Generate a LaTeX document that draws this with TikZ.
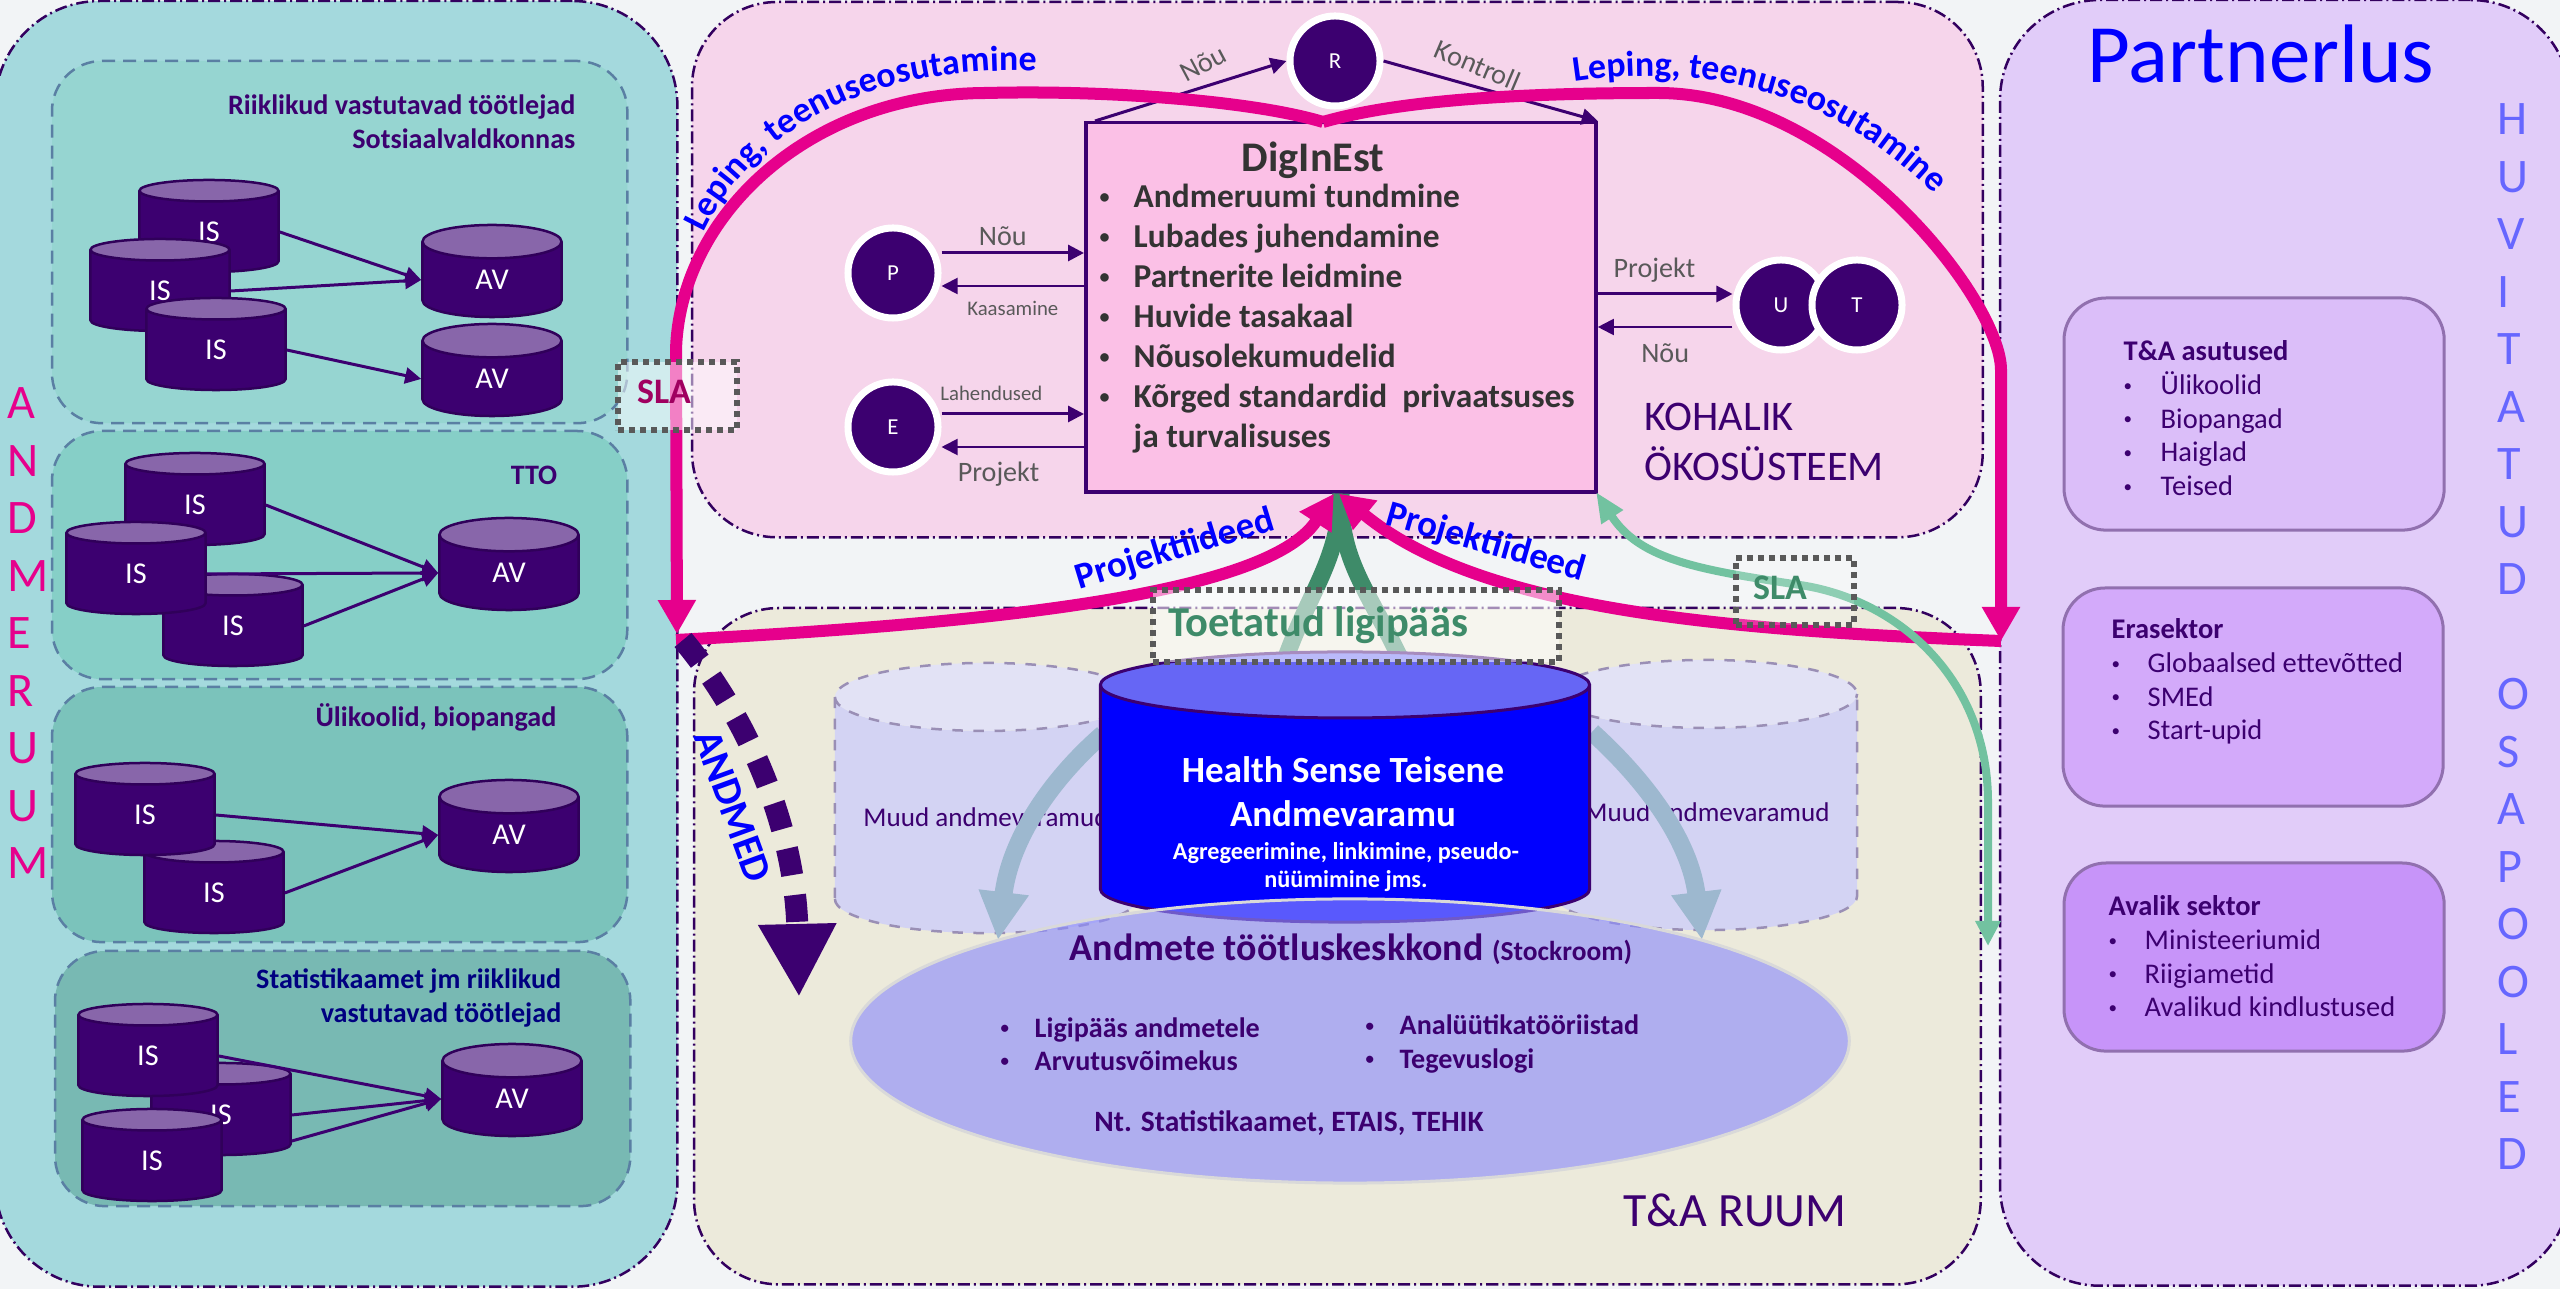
\documentclass[tikz,border=0pt]{standalone}
\usepackage{fontspec}
\usepackage{graphicx}
\setmainfont{Carlito}
\usetikzlibrary{shapes.geometric, arrows.meta, decorations.text}
\definecolor{purp}{HTML}{3C0070}
\definecolor{purplt}{HTML}{8866AA}
\definecolor{mag}{HTML}{E6008C}
\definecolor{bblue}{HTML}{0000FF}
\definecolor{grn}{HTML}{3E8B69}
\definecolor{pagebg}{HTML}{F2F4F6}
\definecolor{dashblue}{HTML}{5A7FA3}
\definecolor{grayblue}{HTML}{9DB8CF}
\definecolor{sidebody}{HTML}{D3D3F3}
\definecolor{sideend}{HTML}{E2E2F5}
\definecolor{sideline}{HTML}{9A8FB5}
\definecolor{slared}{HTML}{A00060}
\newcommand{\fsize}[2]{\fontsize{#1}{#2}\selectfont}
\newcommand{\bul}[1]{\makebox[#1][l]{\raisebox{0.25ex}{\scalebox{0.6}{•}}}}
\tikzstyle{panel} = [rectangle, anchor=north west, inner sep=0, outer sep=0, draw=purp!85!black, line width=0.025cm, dash pattern=on 0.12cm off 0.04cm on 0.02cm off 0.04cm]
\tikzstyle{lpanel} = [rectangle, anchor=north west, inner sep=0, outer sep=0, draw=dashblue, line width=0.025cm, dash pattern=on 0.13cm off 0.08cm, rounded corners=0.5cm, minimum width=5.75cm]
\tikzstyle{rpanel} = [rectangle, anchor=north west, inner sep=0, outer sep=0, draw=purp!50!purplt!70!white, line width=0.03cm, rounded corners=0.42cm, minimum width=3.8cm]
\tikzstyle{iscell} = [cylinder, shape border rotate=90, aspect=1, draw=purp!80!black, line width=0.025cm, cylinder uses custom fill, cylinder body fill=purp, cylinder end fill=purplt, minimum width=1.39cm, minimum height=0.92cm, inner sep=0, text=white, anchor=shape center, font=\fsize{8.6}{10}]
\tikzstyle{sidecell} = [cylinder, shape border rotate=90, aspect=1, draw=sideline, dashed, line width=0.025cm, cylinder uses custom fill, cylinder body fill=sidebody, cylinder end fill=sideend, minimum width=3.02cm, minimum height=2.7cm, inner sep=0.34cm, anchor=shape center]
\tikzstyle{ccell} = [circle, fill=purp, draw=white, line width=0.07cm, minimum size=0.9cm, inner sep=0, text=white, font=\fsize{6.5}{8}]
\tikzstyle{sbox} = [rectangle, anchor=north west, inner sep=0, draw=black!65, line width=0.06cm, dash pattern=on 0.06cm off 0.05cm, fill=white]
\tikzstyle{line} = [draw=purp, line width=0.03cm, -{Triangle[length=0.16cm,width=0.16cm]}]
\tikzstyle{pinkline} = [draw=mag, line width=0.12cm, -{Triangle[length=0.34cm,width=0.36cm]}]
\tikzstyle{gline} = [draw=grn, line width=0.17cm]
\tikzstyle{grayline} = [draw=grayblue, line width=0.18cm, -{Triangle[length=0.48cm,width=0.47cm]}]
\tikzstyle{ptext} = [inner sep=0, text=purp]
\tikzstyle{gtext} = [inner sep=0, text=black!65, font=\fsize{8}{9}]
\tikzstyle{stext} = [inner sep=0, text=black!65, font=\fsize{5.9}{7}]
\tikzstyle{btext} = [inner sep=0, text=bblue, font=\fsize{10.5}{12}\bfseries]

\begin{document}
\begin{tikzpicture}[x=0.01cm, y=-0.01cm]
    \useasboundingbox (0,0) rectangle (2560,1289);
    \clip (0,0) rectangle (2560,1289);
    \fill[pagebg] (0,0) rectangle (2560,1289);

    % rooms
    \node[panel, fill={rgb,255:red,164;green,217;blue,221}, minimum width=6.82cm, minimum height=12.85cm, rounded corners=1.05cm] (andmeruum) at (-5,1) {};
    \node[panel, fill={rgb,255:red,246;green,213;blue,235}, minimum width=12.9cm, minimum height=5.35cm, rounded corners=0.85cm] (kohalik) at (692,2) {};
    \node[panel, fill={rgb,255:red,236;green,234;blue,219}, minimum width=12.86cm, minimum height=6.76cm, rounded corners=0.85cm] (tarum) at (694,608) {};
    \node[panel, fill={rgb,255:red,225;green,204;blue,249}, minimum width=5.7cm, minimum height=12.85cm, rounded corners=1cm] (partner) at (2000,0) {};

    % andmeruum
    \node[lpanel, fill={rgb,255:red,150;green,213;blue,209}, minimum height=3.62cm] (sots) at (52,61) {};
    \node[lpanel, fill={rgb,255:red,134;green,207;blue,199}, minimum height=2.48cm] (tto) at (52,431) {};
    \node[lpanel, fill={rgb,255:red,123;green,195;blue,187}, minimum height=2.55cm] (uli) at (52,687) {};
    \node[lpanel, fill={rgb,255:red,120;green,185;blue,179}, minimum height=2.55cm] (stat) at (55,951) {};

    \node[ptext, anchor=east, align=right, font=\fsize{8}{9.7}\bfseries] (sotstext) at (576,122) {Riiklikud vastutavad töötlejad\\Sotsiaalvaldkonnas};
    \node[ptext, font=\fsize{8}{9}\bfseries] (ttotext) at (534,475) {TTO};
    \node[ptext, anchor=east, font=\fsize{8}{9}\bfseries] (ulitext) at (557,717) {Ülikoolid, biopangad};
    \node[ptext, anchor=east, align=right, text=blue!50!black, font=\fsize{8}{9.4}\bfseries] (stattext) at (562,998) {Statistikaamet jm riiklikud\\vastutavad töötlejad};

    \node[iscell] (is1) at (209,226) {IS};
    \node[iscell] (is2) at (160,285) {IS};
    \node[iscell] (is3) at (216,344) {IS};
    \node[iscell] (av1) at (492,271) {AV};
    \node[iscell] (av2) at (492,370) {AV};
    \path[line] (is1.east) -- (av1.west);
    \path[line] (is2.east) -- (av1.west);
    \path[line] (is3.east) -- (av2.west);

    \node[iscell] (is4) at (195,499) {IS};
    \node[iscell] (is6) at (233,620) {IS};
    \node[iscell] (is5) at (136,568) {IS};
    \node[iscell] (av3) at (509,564) {AV};
    \path[line] (is4.east) -- (av3.west);
    \path[line] (is5.east) -- (av3.west);
    \path[line] (is6.east) -- (av3.west);

    \node[iscell] (is8) at (214,887) {IS};
    \node[iscell] (is7) at (145,809) {IS};
    \node[iscell] (av4) at (509,826) {AV};
    \path[line] (is7.east) -- (av4.west);
    \path[line] (is8.east) -- (av4.west);

    \node[iscell] (is10) at (221,1109) {IS};
    \node[iscell] (is9) at (148,1050) {IS};
    \node[iscell] (is11) at (152,1155) {IS};
    \node[iscell] (av5) at (512,1090) {AV};
    \path[line] (is9.east) -- (av5.west);
    \path[line] (is10.east) -- (av5.west);
    \path[line] ([yshift=-0.26cm]is10.east) -- (av5.west);

    \node[inner sep=0, anchor=north west, align=left, text=mag, font=\fsize{13.7}{16.35}] (ruum) at (7,387) {A\\N\\D\\M\\E\\R\\U\\U\\M};

    % digitaalne keskus
    \node[rectangle, anchor=north west, inner sep=0, draw=purp, line width=0.035cm, fill={rgb,255:red,251;green,192;blue,230}, minimum width=5.1cm, minimum height=3.69cm] (dig) at (1084,121) {};
    \node[inner sep=0, text=black!80, font=\fsize{12}{14}\bfseries] (digtitle) at (1313,160) {DigInEst};
    \node[inner sep=0, anchor=north west, align=left, text=black!80, font=\fsize{9.5}{11.4}\bfseries] (diglist) at (1099,183) {\bul{0.34cm}Andmeruumi tundmine\\\bul{0.34cm}Lubades juhendamine\\\bul{0.34cm}Partnerite leidmine\\\bul{0.34cm}Huvide tasakaal\\\bul{0.34cm}Nõusolekumudelid\\\bul{0.34cm}Kõrged standardid~ privaatsuses\\\hspace*{0.34cm}ja turvalisuses};

    \node[ccell] (r) at (1335,61) {R};
    \node[ccell] (p) at (893,273) {P};
    \node[ccell] (e) at (893,427) {E};
    \node[ccell] (u) at (1781,305) {U};
    \node[ccell] (t) at (1857,305) {T};

    \path[line] ([xshift=0.11cm]dig.north west) -- node[gtext, rotate=28, above=0.12cm, pos=0.62] (noua) {Nõu} (r.west);
    \path[line] (r.east) -- node[gtext, rotate=-23, above=0.1cm, pos=0.4] (kontroll) {Kontroll} (dig.north east);
    \path[line] ([yshift=0.2cm]p.east) -- node[gtext, above=0.06cm, pos=0.43] (noub) {Nõu} ([yshift=0.2cm]p.east -| dig.west);
    \path[line, line width=0.02cm] ([yshift=-0.13cm]p.east -| dig.west) -- node[stext, below=0.14cm] (kaas) {Kaasamine} ([yshift=-0.13cm]p.east);
    \path[line] ([yshift=0.13cm]e.east) -- node[stext, above=0.12cm, pos=0.35] (lah) {Lahendused} ([yshift=0.13cm]e.east -| dig.west);
    \path[line, line width=0.02cm] ([yshift=-0.2cm]e.east -| dig.west) -- node[gtext, below=0.14cm, pos=0.6] (proja) {Projekt} ([yshift=-0.2cm]e.east);
    \path[line] ([yshift=0.11cm]u.west -| dig.east) -- node[gtext, above=0.1cm, pos=0.42] (projb) {Projekt} ([yshift=0.11cm]u.west);
    \path[line, line width=0.02cm] ([yshift=-0.22cm]u.west) -- node[gtext, below=0.16cm] (nouc) {Nõu} ([yshift=-0.22cm]u.west -| dig.east);

    \node[inner sep=0, anchor=west, align=left, text=purp, font=\fsize{12}{14.2}] (oko) at (1644,442) {KOHALIK\\ÖKOSÜSTEEM};
    \node[inner sep=0, text=purp, font=\fsize{13.6}{15}] (tatext) at (1735,1210) {T\&A RUUM};

    % toetatud ligipaas
    \coordinate (gl) at (1285,660);
    \coordinate (gr) at (1401,660);
    \path[gline] (dig.south) .. controls (1339,560) and (1310,590) .. (gl);
    \path[gline] (dig.south) .. controls (1339,560) and (1368,590) .. (gr);

    % andmevaramud
    \node[sidecell] (muud1) at (986,798) {};
    \node[sidecell] (muud2) at (1706,795) {};
    \node[ptext, font=\fsize{7.7}{9}] (muud1text) at (986,817) {Muud andmevaramud};
    \node[ptext, font=\fsize{7.7}{9}] (muud2text) at (1707,812) {Muud andmevaramud};
    \coordinate (gal) at (998,940);
    \coordinate (gar) at (1702,940);
    \coordinate (gbl) at (1103,734);
    \coordinate (gbr) at (1592,732);
    \path[grayline] (gbl) .. controls (1050,780) and (1010,840) .. (gal);
    \path[grayline] (gbr) .. controls (1645,780) and (1690,840) .. (gar);
    \node[cylinder, shape border rotate=90, aspect=1, draw=purp, line width=0.03cm, cylinder uses custom fill, cylinder body fill=blue!100!black, cylinder end fill={rgb,255:red,102;green,102;blue,245}, minimum width=4.89cm, minimum height=2.7cm, inner sep=0.33cm, anchor=shape center] (db) at (1345,787) {};

    \node[ellipse, draw=black!15, line width=0.03cm, fill={rgb,255:red,141;green,141;blue,252}, fill opacity=0.636, minimum width=9.98cm, minimum height=2.84cm, inner sep=0] (stock) at (1350,1041) {};
    \node[inner sep=0, align=center, text=white, font=\fsize{10.5}{12.5}\bfseries] (dbtitle) at (1343,792) {Health Sense Teisene\\Andmevaramu};
    \node[inner sep=0, align=center, text=white, font=\fsize{6.9}{8}\bfseries] (dbsub) at (1346,867) {Agregeerimine, linkimine, pseudo-\\nüümimine jms.};
    \node[ptext, font=\fsize{10.8}{13}\bfseries] (stocktitle) at (1351,949) {Andmete töötluskeskkond {\fsize{7.8}{13}(Stockroom)}};
    \node[ptext, anchor=west, align=left, font=\fsize{8}{9.4}\bfseries] (stock1) at (1000,1044) {\bul{0.34cm}Ligipääs andmetele\\\bul{0.34cm}Arvutusvõimekus};
    \node[ptext, anchor=west, align=left, font=\fsize{8}{9.4}\bfseries] (stock2) at (1365,1044) {\bul{0.34cm}Analüütikatööriistad\\\bul{0.34cm}Tegevuslogi};
    \node[ptext, font=\fsize{8.4}{9}\bfseries] (stock3) at (1289,1123) {Nt. Statistikaamet, ETAIS, TEHIK};

    % lepingud
    \coordinate (vtop) at (1323,122);
    \coordinate (ltip) at (677,634);
    \coordinate (rtip) at (2001,641);
    \coordinate (lbase) at (676,640);
    \path[pinkline] (vtop) .. controls (1250,100) and (1100,90) .. (987,93) .. controls (810,93) and (680,215) .. (676,350) -- (ltip);
    \path[pinkline] (vtop) .. controls (1400,100) and (1520,93) .. (1658,93) .. controls (1840,93) and (2001,300) .. (2001,370) -- (rtip);
    \path[pinkline] (lbase) .. controls (950,625) and (1265,600) .. ([xshift=-0.07cm]dig.south);
    \path[pinkline] (rtip) .. controls (1720,630) and (1480,610) .. ([xshift=-0.02cm]dig.south);

    \path[decorate, decoration={text along path, text align={center}, text={|\fsize{10.2}{12}\bfseries\color{bblue}|Leping, teenuseosutamine}}] (698,245) .. controls (745,130) and (875,60) .. (1050,72);
    \path[decorate, decoration={text along path, text align={center}, text={|\fsize{10.2}{12}\bfseries\color{bblue}|Leping, teenuseosutamine}}] (1573,82) .. controls (1720,60) and (1840,100) .. (1935,195);
    \node[btext, rotate=17] (ideea) at (1175,550) {Projektiideed};
    \node[btext, rotate=-16] (ideeb) at (1486,543) {Projektiideed};

    % andmed
    \coordinate (andstart) at (683,640);
    \coordinate (andtip) at (799,997);
    \path[draw=purp, line width=0.22cm, dash pattern=on 0.27cm off 0.2cm, -{Triangle[length=0.73cm,width=0.73cm]}] (andstart) .. controls (750,720) and (795,830) .. (andtip);
    \node[btext, rotate=-70, font=\fsize{11.6}{14}\bfseries] (andmed) at (733,806) {ANDMED};

    % sla
    \coordinate (slaa) at (1596,492);
    \coordinate (slab) at (1988,946);
    \path[draw={rgb,255:red,114;green,194;blue,160}, line width=0.08cm, {Triangle[length=0.3cm,width=0.24cm]}-{Triangle[length=0.25cm,width=0.24cm]}] (slaa) .. controls (1640,560) and (1700,570) .. (1800,585) .. controls (1900,600) and (1987,680) .. (1988,800) -- (slab);

    \node[sbox, fill opacity=0.5, minimum width=1.19cm, minimum height=0.68cm] (slabox1) at (615,359) {};
    \node[inner sep=0, text=slared, font=\fsize{10.2}{12}\bfseries] (slatext1) at (664,392) {SLA};
    \node[sbox, fill opacity=0.2, minimum width=1.18cm, minimum height=0.67cm] (slabox2) at (1733,555) {};
    \node[inner sep=0, text=grn, font=\fsize{10.2}{12}\bfseries] (slatext2) at (1780,588) {SLA};
    \node[sbox, fill opacity=0.55, minimum width=4.06cm, minimum height=0.72cm] (toebox) at (1150,587) {};
    \node[inner sep=0, text=grn, font=\fsize{12.1}{14}\bfseries] (toetext) at (1318,625) {Toetatud ligipääs};

    % partnerlus
    \node[inner sep=0, text=bblue, font=\fsize{23.6}{26}] (ptitle) at (2261,54) {Partnerlus};
    \node[rpanel, fill={rgb,255:red,219;green,190;blue,249}, minimum height=2.32cm] (tab) at (2064,298) {};
    \node[rpanel, fill={rgb,255:red,211;green,170;blue,250}, minimum height=2.18cm] (era) at (2063,588) {};
    \node[rpanel, fill={rgb,255:red,199;green,148;blue,249}, minimum height=1.88cm] (ava) at (2064,863) {};
    \node[ptext, anchor=north west, align=left, font=\fsize{8.1}{9.6}] (tabtext) at (2123,340) {\textbf{T\&A asutused}\\\bul{0.37cm}Ülikoolid\\\bul{0.37cm}Biopangad\\\bul{0.37cm}Haiglad\\\bul{0.37cm}Teised};
    \node[ptext, anchor=north west, align=left, font=\fsize{8.1}{9.6}] (eratext) at (2111,618) {\textbf{Erasektor}\\\bul{0.36cm}Globaalsed ettevõtted\\\bul{0.36cm}SMEd\\\bul{0.36cm}Start-upid};
    \node[ptext, anchor=north west, align=left, font=\fsize{8.1}{9.6}] (avatext) at (2108,895) {\textbf{Avalik sektor}\\\bul{0.36cm}Ministeeriumid\\\bul{0.36cm}Riigiametid\\\bul{0.36cm}Avalikud kindlustused};
    \node[inner sep=0, anchor=north west, align=left, text=blue!60!white, font=\fsize{13.7}{16.35}] (huvi) at (2497,103) {H\\U\\V\\I\\T\\A\\T\\U\\D\\\strut\\O\\S\\A\\P\\O\\O\\L\\E\\D};
\end{tikzpicture}
\end{document}
